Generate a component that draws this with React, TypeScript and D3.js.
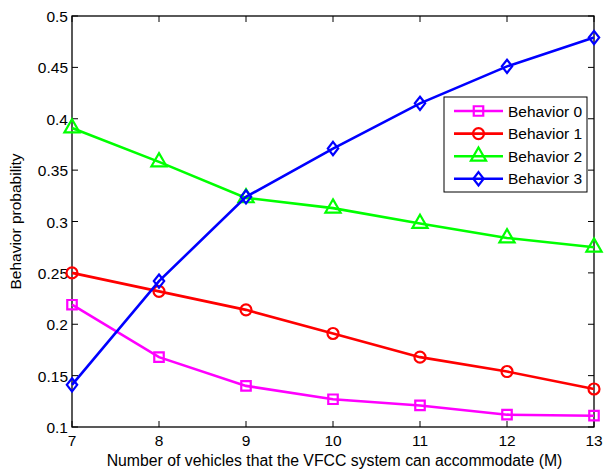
import React, { useRef, useEffect } from 'react';
import * as d3 from 'd3';

// x values: number of vehicles M
const vehicles = [7, 8, 9, 10, 11, 12, 13];

// behaviour probabilities
const behavior0 = [0.219, 0.168, 0.140, 0.127, 0.121, 0.112, 0.111];
const behavior1 = [0.250, 0.232, 0.214, 0.191, 0.168, 0.154, 0.137];
const behavior2 = [0.391, 0.358, 0.323, 0.313, 0.298, 0.284, 0.275];
const behavior3 = [0.141, 0.242, 0.324, 0.371, 0.415, 0.451, 0.479];

const seriesNames = ['Behavior 0', 'Behavior 1', 'Behavior 2', 'Behavior 3'];
const seriesColors = ['#ff00ff', '#ff0000', '#00ff00', '#0000ff'];

const yTicks = [0.1, 0.15, 0.2, 0.25, 0.3, 0.35, 0.4, 0.45, 0.5];

// matlab-ish diamond, a bit wider than d3's
const wideDiamond = {
  draw(ctx: any, size: number) {
    const h = Math.sqrt(size) * 0.72;
    const w = h * 0.78;
    ctx.moveTo(0, -h);
    ctx.lineTo(w, 0);
    ctx.lineTo(0, h);
    ctx.lineTo(-w, 0);
    ctx.closePath();
  },
};

const symbols = [
  d3.symbol().type(d3.symbolSquare).size(90),
  d3.symbol().type(d3.symbolCircle).size(95),
  d3.symbol().type(d3.symbolTriangle).size(100),
  d3.symbol().type(wideDiamond as any).size(85),
];

const App = () => {
  const svgRef = useRef<SVGSVGElement>(null);

  useEffect(() => {
    const svg = d3.select(svgRef.current);
    svg.selectAll('*').remove();

    const font = 'Liberation Sans, Arial, sans-serif';
    const fs = '15.5px';
    const margin = { top: 16, right: 19, bottom: 44, left: 72 };
    const width = 613 - margin.left - margin.right;
    const height = 471 - margin.top - margin.bottom;

    const x = d3.scaleLinear().domain([7, 13]).range([0, width]);
    const y = d3.scaleLinear().domain([0.1, 0.5]).range([height, 0]);

    svg.append('rect').attr('width', 613).attr('height', 471).attr('fill', '#fff');

    const g = svg.append('g').attr('transform', `translate(${margin.left},${margin.top})`);

    const tickLen = 6;

    // x ticks, inward on bottom and top
    vehicles.forEach((v) => {
      g.append('line').attr('x1', x(v)).attr('x2', x(v)).attr('y1', height).attr('y2', height - tickLen)
        .attr('stroke', '#000').attr('stroke-width', 1);
      g.append('line').attr('x1', x(v)).attr('x2', x(v)).attr('y1', 0).attr('y2', tickLen)
        .attr('stroke', '#000').attr('stroke-width', 1);
      g.append('text')
        .attr('x', x(v))
        .attr('y', height + 19)
        .attr('text-anchor', 'middle')
        .style('font-family', font)
        .style('font-size', fs)
        .text(v);
    });

    // y ticks, inward on left and right
    yTicks.forEach((t) => {
      g.append('line').attr('x1', 0).attr('x2', tickLen).attr('y1', y(t)).attr('y2', y(t))
        .attr('stroke', '#000').attr('stroke-width', 1);
      g.append('line').attr('x1', width).attr('x2', width - tickLen).attr('y1', y(t)).attr('y2', y(t))
        .attr('stroke', '#000').attr('stroke-width', 1);
      g.append('text')
        .attr('x', -4)
        .attr('y', y(t) + 6)
        .attr('text-anchor', 'end')
        .style('font-family', font)
        .style('font-size', fs)
        .text(d3.format('')(t));
    });

    // axes box
    g.append('rect')
      .attr('width', width)
      .attr('height', height)
      .attr('fill', 'none')
      .attr('stroke', '#000')
      .attr('stroke-width', 1.3);

    // lines + markers
    const allSeries = [behavior0, behavior1, behavior2, behavior3];
    const line = d3.line<number>().x((d, i) => x(vehicles[i])).y((d) => y(d));

    allSeries.forEach((vals, si) => {
      g.append('path')
        .datum(vals)
        .attr('d', line)
        .attr('fill', 'none')
        .attr('stroke', seriesColors[si])
        .attr('stroke-width', 2.6);

      g.selectAll(`.mk${si}`)
        .data(vals)
        .enter()
        .append('path')
        .attr('class', `mk${si}`)
        .attr('transform', (d, i) => `translate(${x(vehicles[i])},${y(d)})`)
        .attr('d', symbols[si]() as string)
        .attr('fill', 'none')
        .attr('stroke', seriesColors[si])
        .attr('stroke-width', 2.2);
    });

    // legend
    const lx = 444 - margin.left;
    const ly = 97 - margin.top;
    const legend = g.append('g').attr('transform', `translate(${lx},${ly})`);
    legend.append('rect')
      .attr('width', 143)
      .attr('height', 95)
      .attr('fill', '#fff')
      .attr('stroke', '#000')
      .attr('stroke-width', 1);
    seriesNames.forEach((name, si) => {
      const ry = 14 + si * 22.6;
      legend.append('line')
        .attr('x1', 10).attr('x2', 59).attr('y1', ry).attr('y2', ry)
        .attr('stroke', seriesColors[si]).attr('stroke-width', 2.6);
      legend.append('path')
        .attr('transform', `translate(34.5,${ry})`)
        .attr('d', symbols[si]() as string)
        .attr('fill', 'none')
        .attr('stroke', seriesColors[si])
        .attr('stroke-width', 2.2);
      legend.append('text')
        .attr('x', 64)
        .attr('y', ry + 5.5)
        .style('font-family', font)
        .style('font-size', fs)
        .text(name);
    });

    // axis titles
    g.append('text')
      .attr('x', width / 2 + 1.5)
      .attr('y', height + 38.5)
      .attr('text-anchor', 'middle')
      .style('font-family', font)
      .style('font-size', '15.8px')
      .text('Number of vehicles that the VFCC system can accommodate (M)');

    g.append('text')
      .attr('transform', `translate(${-51},${height / 2}) rotate(-90)`)
      .attr('text-anchor', 'middle')
      .style('font-family', font)
      .style('font-size', fs)
      .text('Behavior probability');
  }, []);

  return (
    <svg
      ref={svgRef}
      width={613}
      height={471}
      style={{ position: 'absolute', left: 0, top: 0 }}
    />
  );
};

export default App;
